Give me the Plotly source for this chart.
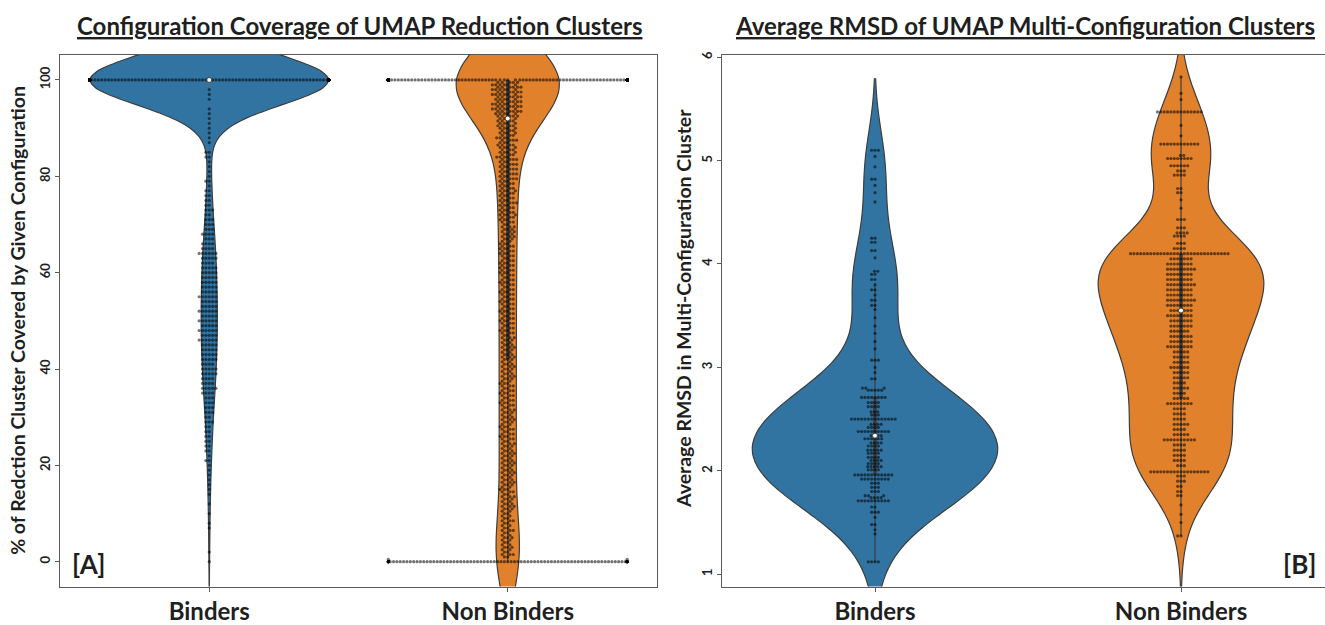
import numpy as np
import plotly.graph_objects as go

# ---------------- data ----------------
categories = ["Binders", "Non Binders"]
colors = ["#3274a1", "#e1812c"]

# Panel A: % of reduction cluster covered by given configuration
binders_a_n100 = 1000            # clusters fully covered (100 %)
binders_a_levels = list(range(0, 100))   # integer percent bins 0..99
binders_a_counts = [1, 0, 1, 0, 0, 0, 0, 1, 1, 0,
                    1, 0, 1, 0, 1, 1, 1, 1, 1, 1,
                    1, 2, 1, 2, 2, 2, 2, 2, 2, 3,
                    2, 3, 3, 3, 3, 4, 5, 4, 4, 5,
                    5, 4, 5, 5, 5, 5, 6, 5, 6, 5,
                    6, 5, 6, 5, 5, 6, 5, 5, 5, 5,
                    5, 5, 4, 5, 6, 4, 4, 3, 4, 3,
                    3, 3, 2, 3, 2, 2, 2, 2, 1, 2,
                    1, 1, 1, 1, 2, 2, 0, 1, 1, 1,
                    1, 1, 1, 1, 1, 0, 1, 1, 1, 0]

nonbinders_a_n0 = 90
nonbinders_a_n100 = 525
nonbinders_a_levels = [i / 2 for i in range(1, 200)]   # 0.5 .. 99.5
# counts per 0.5 % level, one digit per level (0.5 ... 99.5)
nonbinders_a_counts = [int(c) for c in (
    "22322322232232223222"
    "23332332332333233323"
    "33233323323332332333"
    "23323332333233233323"
    "33233323332332333233"
    "32333233323332333233"
    "33333233333323333332"
    "33343333433334333343"
    "43434344343443443434"
    "4444556666656666665")]

# Panel B: average RMSD in multi-configuration cluster
binders_b_values = [5.10, 5.04, 4.94, 4.82, 4.76, 4.69, 4.60, 4.25, 4.21, 4.13,
                    4.06, 3.93, 3.90, 3.85, 3.80, 3.75, 3.70, 3.65, 3.60, 3.56,
                    3.48, 3.40, 3.33, 3.25, 3.18, 3.07, 3.00, 2.95, 2.89, 2.80,
                    2.78, 2.71, 2.66, 2.62, 2.57, 2.54, 2.50, 2.45, 2.42, 2.38,
                    2.34, 2.31, 2.27, 2.24, 2.20, 2.17, 2.13, 2.10, 2.07, 2.04,
                    2.01, 1.96, 1.92, 1.88, 1.84, 1.80, 1.76, 1.74, 1.71, 1.65,
                    1.60, 1.55, 1.48, 1.43, 1.39, 1.12]
binders_b_counts = [3, 1, 1, 2, 1, 1, 1, 2, 2, 2,
                    1, 2, 2, 2, 1, 2, 1, 2, 2, 1,
                    1, 1, 1, 1, 1, 3, 1, 1, 2, 3,
                    5, 8, 4, 4, 3, 3, 14, 4, 4, 10,
                    4, 6, 4, 4, 5, 4, 4, 4, 4, 5,
                    4, 12, 9, 3, 3, 3, 3, 4, 10, 2,
                    3, 1, 2, 1, 1, 4]

nonbinders_b_values = [5.81, 5.65, 5.59, 5.47, 5.34, 5.24, 5.16, 5.05, 5.02, 4.95,
                       4.90, 4.86, 4.73, 4.69, 4.62, 4.54, 4.43, 4.35, 4.30, 4.27,
                       4.20, 4.15, 4.10, 4.05, 4.00, 3.95, 3.90, 3.85, 3.80, 3.75,
                       3.70, 3.65, 3.60, 3.55, 3.50, 3.45, 3.40, 3.35, 3.30, 3.25,
                       3.20, 3.15, 3.10, 3.05, 3.00, 2.95, 2.90, 2.85, 2.80, 2.75,
                       2.70, 2.65, 2.60, 2.55, 2.50, 2.45, 2.40, 2.35, 2.30, 2.25,
                       2.20, 2.15, 2.10, 2.05, 1.99, 1.95, 1.90, 1.85, 1.80, 1.76,
                       1.67, 1.58, 1.50, 1.37]
nonbinders_b_counts = [1, 1, 1, 14, 1, 1, 12, 2, 8, 6,
                       3, 4, 2, 2, 1, 1, 3, 3, 4, 4,
                       3, 4, 30, 7, 8, 9, 8, 8, 9, 8,
                       8, 9, 8, 7, 8, 7, 7, 6, 7, 7,
                       8, 5, 5, 5, 6, 5, 5, 4, 5, 4,
                       5, 8, 4, 4, 4, 5, 4, 5, 10, 4,
                       4, 4, 4, 3, 18, 3, 3, 2, 2, 2,
                       1, 1, 1, 2]

# ---------------- layout geometry ----------------
W, H = 1325, 625
yA_range = [-5.15, 105.25]
yB_range = [0.881, 6.024]
xA_range = [-0.5, 1.5]
xB_range = [-0.5, 1.4706]
domA = [60 / W, 657 / W]
domB = [722 / W, 1.0]
dom_y = [(H - 592) / H, (H - 51.5) / H]

DOT = 3.2          # marker diameter (px)
SWARM_W = 0.8      # swarm width in category units
VIOLIN_W = 0.8
# kernel bandwidth factors relative to Scott's rule (binders, non binders)
BW_A = [1.0, 0.88]
BW_B = [1.2, 1.0]


def expand(levels, counts):
    return np.repeat(np.asarray(levels, float), np.asarray(counts, int))


binders_a = np.concatenate([expand(binders_a_levels, binders_a_counts),
                            np.full(binders_a_n100, 100.0)])
nonbinders_a = np.concatenate([np.zeros(nonbinders_a_n0),
                               expand(nonbinders_a_levels, nonbinders_a_counts),
                               np.full(nonbinders_a_n100, 100.0)])
binders_b = expand(binders_b_values, binders_b_counts)
nonbinders_b = expand(nonbinders_b_values, nonbinders_b_counts)


def beeswarm(vals, px_per_y, px_per_x, d=DOT):
    """seaborn-like swarm layout; returns x offsets in category units"""
    y = np.asarray(vals, float) * px_per_y
    order = np.argsort(y, kind="mergesort")
    out = np.zeros(len(y))
    limit = SWARM_W / 2 * px_per_x
    py, pxs = [], []
    start = 0
    flip = -1
    for idx in order:
        yi = y[idx]
        while start < len(py) and yi - py[start] >= d:
            start += 1
        if start >= len(py):
            x = 0.0
        else:
            ny = np.array(py[start:])
            nx = np.array(pxs[start:])
            dy = yi - ny
            dx = np.sqrt(np.maximum(d * d - dy * dy, 0)) * 1.05
            cand = np.concatenate(([0.0], nx - dx, nx + dx))
            cand = cand[np.argsort(np.abs(cand), kind="mergesort")]
            ok = ((cand[:, None] - nx[None, :]) ** 2 + dy[None, :] ** 2) >= d * d * 0.999
            x = cand[np.argmax(ok.all(axis=1))]
        if abs(x) > limit:
            out[idx] = flip * limit
            flip = -flip
        else:
            out[idx] = x
            py.append(yi)
            pxs.append(x)
    return out / px_per_x


def kde_stats(vals, cut=2.0, bw_mult=1.0):
    vals = np.asarray(vals, float)
    n = len(vals)
    bw = np.std(vals, ddof=1) * n ** (-0.2) * bw_mult
    span = [vals.min() - cut * bw, vals.max() + cut * bw]
    grid = np.linspace(span[0], span[1], 1500)
    uv, cnt = np.unique(vals, return_counts=True)
    dens = (cnt[None, :] * np.exp(-0.5 * ((grid[:, None] - uv[None, :]) / bw) ** 2)).sum(1)
    dens /= n * bw * np.sqrt(2 * np.pi)
    return bw, span, dens.max()


plot_h = (dom_y[1] - dom_y[0]) * H
pxA_y = plot_h / (yA_range[1] - yA_range[0])
pxB_y = plot_h / (yB_range[1] - yB_range[0])
pxA_x = (domA[1] - domA[0]) * W / (xA_range[1] - xA_range[0])
pxB_x = (domB[1] - domB[0]) * W / (xB_range[1] - xB_range[0])

fig = go.Figure()
GRAY = "#3d3d3d"


def add_panel(groups, bw_mults, xa, ya, px_y, px_x, tag):
    stats = [kde_stats(v, bw_mult=m) for v, m in zip(groups, bw_mults)]
    peak_max = max(s[2] for s in stats)
    for pos, (vals, (bw, span, peak)) in enumerate(zip(groups, stats)):
        vals = np.asarray(vals, float)
        n = len(vals)
        fig.add_trace(go.Violin(
            x=np.full(n, pos), y=vals, xaxis=xa, yaxis=ya,
            width=VIOLIN_W * peak / peak_max, scalegroup="%s%d" % (tag, pos), scalemode="width",
            bandwidth=bw, spanmode="manual", span=span,
            points=False, fillcolor=colors[pos], opacity=1,
            line=dict(color=GRAY, width=1.2),
            hoverinfo="skip", showlegend=False))
        q25, q50, q75 = np.percentile(vals, [25, 50, 75])
        wl = 1.5 * (q75 - q25)
        lo = vals[vals >= q25 - wl].min()
        hi = vals[vals <= q75 + wl].max()
        fig.add_trace(go.Scatter(x=[pos, pos], y=[lo, hi], mode="lines", xaxis=xa, yaxis=ya,
                                 line=dict(color=GRAY, width=1.2), hoverinfo="skip", showlegend=False))
        fig.add_trace(go.Scatter(x=[pos, pos], y=[q25, q75], mode="lines", xaxis=xa, yaxis=ya,
                                 line=dict(color=GRAY, width=3.6), hoverinfo="skip", showlegend=False))
        offs = beeswarm(vals, px_y, px_x)
        fig.add_trace(go.Scatter(x=pos + offs, y=vals, mode="markers", xaxis=xa, yaxis=ya,
                                 marker=dict(size=DOT, color="rgba(0,0,0,0.55)", line=dict(width=0)),
                                 hoverinfo="skip", showlegend=False))
        fig.add_trace(go.Scatter(x=[pos], y=[q50], mode="markers", xaxis=xa, yaxis=ya,
                                 marker=dict(size=5, color="white", line=dict(color=GRAY, width=1)),
                                 hoverinfo="skip", showlegend=False))


add_panel([binders_a, nonbinders_a], BW_A, "x", "y", pxA_y, pxA_x, "A")
add_panel([binders_b, nonbinders_b], BW_B, "x2", "y2", pxB_y, pxB_x, "B")

FONT = "Lato"
TXT = "#1f1f1f"
LINE = "#5a5a5a"
xaxis_common = dict(tickvals=[0, 1], ticktext=["<b>%s</b>" % c for c in categories],
                    tickfont=dict(family=FONT, size=24, color=TXT),
                    ticks="outside", ticklen=4, tickcolor=LINE,
                    showline=True, linecolor=LINE, linewidth=1,
                    showgrid=False, zeroline=False)
yaxis_common = dict(tickangle=-90, tickfont=dict(family=FONT, size=13, color=TXT),
                    ticks="outside", ticklen=4, tickcolor=LINE,
                    showline=True, linecolor=LINE, linewidth=1,
                    showgrid=False, zeroline=False)

yA_ticks = [0, 20, 40, 60, 80, 100]
yB_ticks = [1, 2, 3, 4, 5, 6]

fig.update_layout(
    width=W, height=H, margin=dict(l=0, r=0, t=0, b=0),
    paper_bgcolor="white", plot_bgcolor="white",
    violinmode="overlay", showlegend=False,
    xaxis=dict(xaxis_common, domain=domA, range=xA_range, mirror=True, anchor="y"),
    yaxis=dict(yaxis_common, domain=dom_y, range=yA_range, mirror=True, anchor="x",
               tickvals=yA_ticks, ticktext=["<b>%d</b>" % v for v in yA_ticks]),
    xaxis2=dict(xaxis_common, domain=domB, range=xB_range, mirror=True, anchor="y2"),
    yaxis2=dict(yaxis_common, domain=dom_y, range=yB_range, mirror=False, anchor="x2",
                tickvals=yB_ticks, ticktext=["<b>%d</b>" % v for v in yB_ticks]),
)

ann = []
ann.append(dict(text="<b><u>Configuration Coverage of UMAP Reduction Clusters</u></b>",
                x=359 / W, y=1 - 22 / H, xref="paper", yref="paper", showarrow=False,
                font=dict(family=FONT, size=24, color=TXT), xanchor="center", yanchor="middle"))
ann.append(dict(text="<b><u>Average RMSD of UMAP Multi-Configuration Clusters</u></b>",
                x=1025 / W, y=1 - 22 / H, xref="paper", yref="paper", showarrow=False,
                font=dict(family=FONT, size=24, color=TXT), xanchor="center", yanchor="middle"))
ann.append(dict(text="<b>% of Redction Cluster Covered by Given Configuration</b>",
                x=18 / W, y=1 - 322 / H, xref="paper", yref="paper", showarrow=False, textangle=-90,
                font=dict(family=FONT, size=19.5, color=TXT), xanchor="center", yanchor="middle"))
ann.append(dict(text="<b>Average RMSD in Multi-Configuration Cluster</b>",
                x=683 / W, y=1 - 310 / H, xref="paper", yref="paper", showarrow=False, textangle=-90,
                font=dict(family=FONT, size=19.5, color=TXT), xanchor="center", yanchor="middle"))
ann.append(dict(text="<b>[A]</b>", x=89 / W, y=1 - 569 / H, xref="paper", yref="paper",
                showarrow=False, font=dict(family=FONT, size=26, color=TXT),
                xanchor="center", yanchor="middle"))
ann.append(dict(text="<b>[B]</b>", x=1299 / W, y=1 - 569 / H, xref="paper", yref="paper",
                showarrow=False, font=dict(family=FONT, size=26, color=TXT),
                xanchor="center", yanchor="middle"))
fig.update_layout(annotations=ann)

fig.write_html("out.html")
